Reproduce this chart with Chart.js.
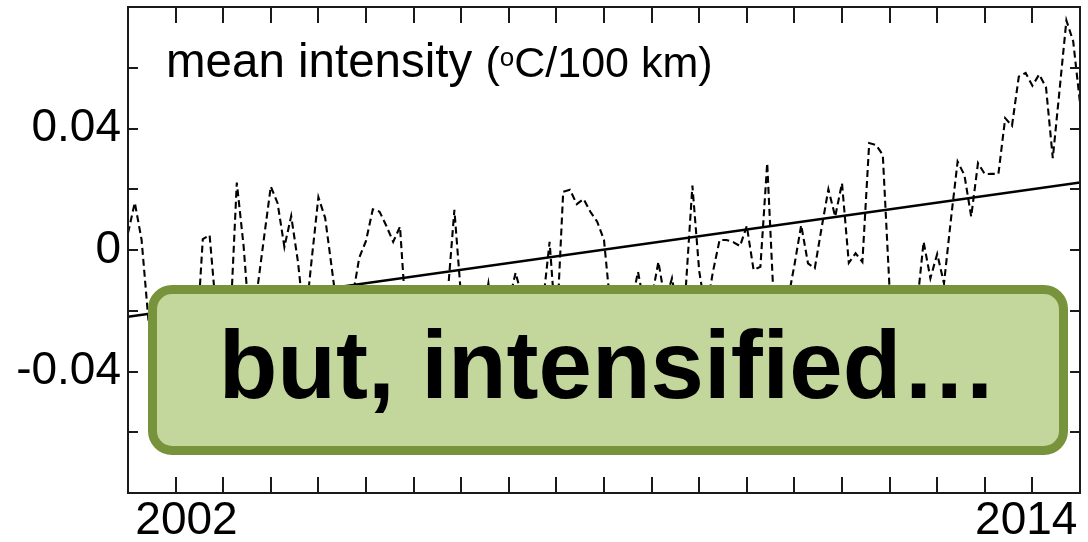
<!DOCTYPE html>
<html>
<head>
<meta charset="utf-8">
<script src="https://cdn.jsdelivr.net/npm/chart.js@4.4.1/dist/chart.umd.min.js"></script>
<style>
  html, body { margin: 0; padding: 0; background: #fff; }
  #wrap { position: relative; width: 1088px; height: 542px; overflow: hidden;
          font-family: "Liberation Sans", Arial, sans-serif; }
  #chart { position: absolute; left: 0; top: 0; }
  .title { position: absolute; left: 166px; top: 37px; font-size: 47.5px; line-height: 47px;
           white-space: nowrap; color: #000; }
  .title .unit { font-size: 43px; }
  .title .deg { font-size: 26px; position: relative; top: -11px; }
  .callout { position: absolute; left: 148px; top: 285px; width: 920px; height: 170px;
             box-sizing: border-box; border: 9px solid #77933c; border-radius: 24px;
             background: #c3d69b; display: flex; align-items: center; justify-content: center;
             padding-bottom: 10px;
             font-weight: bold; font-size: 96px; color: #000; white-space: nowrap; }
</style>
</head>
<body>
<div id="wrap">
  <canvas id="chart" width="1088" height="542"></canvas>
  <div class="title">mean intensity <span class="unit">(<span class="deg">o</span>C/100 km)</span></div>
  <div class="callout">but, intensified…</div>
</div>
<script>
// mean front intensity series, one value per step along the x axis
const INTENSITY = [
  0.0056, 0.0156, 0.0033, -0.023, -0.035, -0.042, -0.038, -0.030, -0.036, -0.041,
  -0.033, 0.0036, 0.0049, -0.021, -0.034, -0.026, 0.0222, 0.0013, -0.028, -0.0132,
  0.0040, 0.0209, 0.0154, 0.0010, 0.0112, -0.0040, -0.025, -0.0034, 0.0174, 0.0105,
  -0.0065, -0.024, -0.031, -0.016, -0.0026, 0.0030, 0.0134, 0.0126, 0.0079, 0.0027,
  0.0077, -0.026, -0.037, -0.029, -0.040, -0.033, -0.027, -0.015, 0.0132, -0.016,
  -0.030, -0.036, -0.024, -0.0110, -0.027, -0.033, -0.017, -0.0075, -0.016, -0.029,
  -0.034, -0.018, 0.0027, -0.028, 0.0192, 0.0198, 0.0151, 0.0168, 0.0126, 0.0093,
  0.0033, -0.020, -0.032, -0.027, -0.018, -0.0072, -0.019, -0.016, -0.0039, -0.017,
  -0.0093, -0.022, -0.0135, 0.0212, -0.0069, -0.021, -0.0074, 0.0033, 0.0033, 0.0026,
  0.0013, 0.0079, -0.0066, -0.0055, 0.0286, -0.019, -0.028, -0.017, -0.0050, 0.0082,
  -0.0044, -0.0060, 0.0073, 0.0200, 0.0110, 0.0220, -0.0042, -0.0011, -0.0039, 0.0352,
  0.0346, 0.0313, -0.013, -0.027, -0.035, -0.029, -0.019, 0.0027, -0.0093, -0.0013,
  -0.0110, 0.0097, 0.0291, 0.0247, 0.0110, 0.0286, 0.0250, 0.0251, 0.0250, 0.0434,
  0.0409, 0.0571, 0.0583, 0.0541, 0.0578, 0.0536, 0.0302, 0.0528, 0.0756, 0.0687,
  0.0484
];
// linear trend, start and end values
const TREND = [-0.022, 0.0222];

const Y_LABELED = [0.04, 0, -0.04];
const YEAR_LABELS = ["2002", "2014"];
const YEAR_LABEL_AT = [8.6, 132.1];
const X_TICK_STEP = 7;

const FONT = '"Liberation Sans", Arial, sans-serif';
Chart.defaults.font.family = FONT;

// box frame plus inward tick marks on all four sides
const frameTicks = {
  id: "frameTicks",
  afterDraw(chart) {
    const { ctx, chartArea: a, scales: { x, y } } = chart;
    ctx.save();
    ctx.strokeStyle = "#1a1a1a";
    ctx.lineWidth = 2;
    ctx.strokeRect(a.left, a.top, a.right - a.left, a.bottom - a.top);
    ctx.beginPath();
    for (let v = X_TICK_STEP; v < x.max; v += X_TICK_STEP) {
      const px = Math.round(x.getPixelForValue(v));
      ctx.moveTo(px, a.bottom); ctx.lineTo(px, a.bottom - 16);
      ctx.moveTo(px, a.top); ctx.lineTo(px, a.top + 16);
    }
    y.ticks.forEach(t => {
      if (t.value <= y.min + 1e-9 || t.value >= y.max - 1e-9) { return; }
      const py = Math.round(y.getPixelForValue(t.value));
      ctx.moveTo(a.left, py); ctx.lineTo(a.left + 10, py);
      ctx.moveTo(a.right, py); ctx.lineTo(a.right - 10, py);
    });
    ctx.stroke();
    ctx.restore();
  }
};

const last = INTENSITY.length - 1;

new Chart(document.getElementById("chart"), {
  type: "line",
  data: {
    datasets: [
      {
        label: "mean intensity",
        data: INTENSITY.map((v, i) => ({ x: i, y: v })),
        borderColor: "#000",
        borderWidth: 2.1,
        borderDash: [7, 4],
        pointRadius: 0,
        tension: 0,
      },
      {
        label: "trend",
        data: [{ x: 0, y: TREND[0] }, { x: last, y: TREND[1] }],
        borderColor: "#000",
        borderWidth: 2.5,
        pointRadius: 0,
      },
    ],
  },
  options: {
    responsive: false,
    animation: false,
    devicePixelRatio: 1,
    layout: { padding: { top: 7, right: 8, left: 0, bottom: 0 } },
    plugins: { legend: { display: false }, tooltip: { enabled: false } },
    scales: {
      x: {
        type: "linear",
        min: 0,
        max: last,
        grid: { display: false, drawTicks: false },
        border: { display: false },
        afterBuildTicks: s => { s.ticks = YEAR_LABEL_AT.map(v => ({ value: v })); },
        afterFit: s => { s.height = 49; s.paddingLeft = 0; s.paddingRight = 0; },
        ticks: {
          autoSkip: false, maxRotation: 0, padding: 1, color: "#000",
          font: { size: 46 },
          callback: (v, i) => YEAR_LABELS[i],
        },
      },
      y: {
        min: -0.08,
        max: 0.08,
        grid: { display: false, drawTicks: false },
        border: { display: false },
        afterFit: s => { s.width = 128; s.paddingTop = 0; s.paddingBottom = 0; },
        ticks: {
          stepSize: 0.02, padding: 7, color: "#000",
          font: { size: 46 },
          callback: v => Y_LABELED.some(l => Math.abs(l - v) < 1e-9) ? String(+v.toFixed(2)) : "",
        },
      },
    },
  },
  plugins: [frameTicks],
});
</script>
</body>
</html>
